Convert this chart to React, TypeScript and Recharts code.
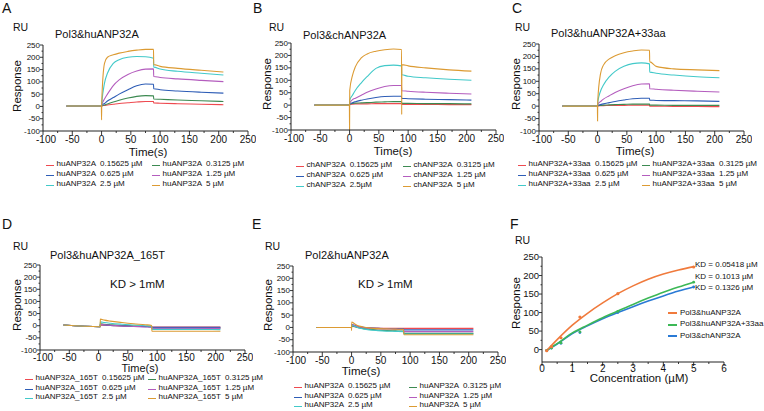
import React from 'react';
import { LineChart, ComposedChart, Line, Scatter, XAxis, YAxis } from 'recharts';

const FONT = '"Liberation Sans", Arial, Helvetica, sans-serif';

// sensorgram colours, lowest to highest concentration
const colors = ['#ee4a50', '#3d8a52', '#2e5db6', '#b45dbe', '#42c9c9', '#dc9b33'];
const concLabels = ['0.15625 µM', '0.3125 µM', '0.625 µM', '1.25 µM', '2.5 µM', '5 µM'];
const concLabelsB = ['0.15625 µM', '0.3125 µM', '0.625 µM', '1.25 µM', '2.5µM', '5 µM'];

const timeABC = [-60, -0.3, 0, 0.3, 5, 10, 20, 30, 45, 60, 75, 88.7, 89, 89.3, 100, 130, 170, 208];

const redA = [1, 1, 0, 2, 4, 6, 9, 12, 15, 18, 20, 20, 14, 14, 13, 11, 9, 7];
const greenA = [2, 2, 0, 3, 6, 10, 18, 25, 34, 41, 44, 43, 30, 30, 29, 26, 23, 20];
const blueA = [2, 2, 0, 4, 12, 22, 36, 50, 68, 84, 91, 90, 72, 72, 68, 63, 58, 54];
const purpleA = [2, 2, 0, 6, 30, 50, 85, 108, 130, 144, 152, 153, 122, 122, 118, 112, 106, 101];
const cyanA = [2, 2, 0, 10, 95, 135, 175, 190, 200, 203, 202, 196, 160, 160, 152, 143, 135, 128];
const orangeA = [2, 2, -55, 20, 175, 200, 210, 217, 224, 229, 232, 232, 170, 170, 163, 155, 147, 140];

const redB = [0, 0, 0, 2, 4, 5, 5, 5, 6, 6, 6, 6, 3, 3, 3, 3, 2, 2];
const greenB = [0, 0, 0, 3, 7, 8, 9, 10, 12, 13, 14, 14, 7, 7, 7, 6, 6, 5];
const blueB = [0, 0, 0, 4, 10, 14, 20, 25, 31, 35, 36, 36, 27, 27, 26, 24, 22, 20];
const purpleB = [0, 0, 0, 8, 22, 28, 40, 52, 65, 75, 79, 79, 58, 58, 56, 52, 48, 45];
const cyanB = [0, 0, 0, 20, 40, 60, 90, 115, 148, 159, 161, 158, 122, 122, 116, 110, 104, 100];
const orangeB = [0, 0, -100, 60, 120, 155, 190, 206, 217, 223, 226, 224, -38, 163, 158, 150, 142, 137];

const redC = [0, 0, 0, 1, 2, 2, 3, 3, 3, 4, 4, 4, 0, 0, 0, -1, -1, -2];
const greenC = [0, 0, 0, 2, 3, 4, 5, 6, 7, 8, 8, 8, 4, 4, 4, 3, 3, 3];
const blueC = [0, 0, 0, 3, 6, 9, 14, 19, 25, 30, 32, 32, 24, 24, 23, 22, 21, 19];
const purpleC = [0, 0, 0, 8, 18, 28, 42, 55, 70, 82, 89, 90, 70, 70, 68, 64, 60, 57];
const cyanC = [0, 0, 0, 15, 60, 85, 118, 140, 160, 171, 174, 170, 137, 137, 132, 125, 118, 114];
const orangeC = [0, 0, -60, 20, 130, 165, 190, 203, 215, 222, 226, 225, 178, 178, 160, 150, 146, 143];

const timeD = [-60, 2.7, 3, 10, 20, 40, 60, 80, 90.7, 91, 120, 160, 208];
const redD = [3, -4, 3, 2, 1, -1, -2, -3, -4, -5, -5, -5, -5];
const greenD = [3, -4, 8, 6, 4, 1, -1, -3, -4, -10, -10, -10, -10];
const blueD = [3, -4, 5, 3, 1, -1, -3, -4, -5, -7, -7, -7, -7];
const purpleD = [3, -4, 6, 4, 2, -1, -3, -5, -6, -11, -11, -11, -11];
const cyanD = [3, -4, 16, 13, 10, 6, 3, 0, -2, -15, -15, -15, -16];
const orangeD = [3, -4, 27, 23, 19, 13, 8, 4, 1, -23, -23, -23, -23];

const timeE = [-60, -0.3, 0, 0.3, 5, 10, 20, 30, 45, 60, 75, 88.7, 89.3, 120, 160, 208];
const redE = [0, 0, 0, 5, 3, 1, -1, -2, -3, -4, -4, -4, -4, -4, -4, -4];
const greenE = [0, 0, 0, 6, 4, 0, -5, -8, -11, -13, -14, -15, -24, -24, -24, -24];
const blueE = [0, 0, 0, 12, 9, 5, 1, -2, -4, -5, -6, -6, -10, -10, -10, -10];
const purpleE = [0, 0, 0, 10, 8, 4, 0, -3, -5, -6, -7, -8, -17, -17, -17, -17];
const cyanE = [0, 0, 0, 8, 5, 0, -6, -10, -13, -15, -16, -17, -27, -27, -27, -27];
const orangeE = [0, 0, -12, 22, 15, 8, 2, -2, -5, -6, -7, -8, -30, -30, -30, -30];

const sgTicks = [-100, -75, -50, -25, 0, 25, 50, 75, 100, 125, 150, 175, 200, 225, 250];

// panel F
const conc = [0.15625, 0.3125, 0.625, 1.25, 2.5, 5];
const huPts = [-3, 8, 32, 88, 151, 223];
const aaPts = [-2, 4, 18, 48, 103, 182];
const chPts = [-2, 4, 17, 46, 100, 169];
const fitX = [0.15, 0.5, 1, 1.5, 2, 2.5, 3, 3.5, 4, 4.5, 5];
const huFit = [-3, 27, 66, 98, 126, 151, 172, 190, 204, 215, 224];
const aaFit = [-2, 16, 45, 66, 86, 104, 122, 139, 155, 169, 182];
const chFit = [-2, 15, 43, 64, 83, 100, 116, 131, 145, 158, 169];
const fColors = ['#f07a3c', '#3cb856', '#2a7ad5'];
const fNames = ['Pol3&huANP32A', 'Pol3&huANP32A+33aa', 'Pol3&chANP32A'];
const kdLabels = ['KD = 0.05418 µM', 'KD = 0.1013 µM', 'KD = 0.1326 µM'];
const fxTicks = [0, 0.5, 1, 1.5, 2, 2.5, 3, 3.5, 4, 4.5, 5, 5.5, 6];
const fyTicks = [0, 25, 50, 75, 100, 125, 150, 175, 200, 225, 250];

const isMajor = (v: number, step: number) => Math.abs(v / step - Math.round(v / step)) < 1e-6;

const xTick = (step: number, fs: number, dy: number) => (p: any) => {
  const v = p.payload.value;
  const major = isMajor(v, step);
  return (
    <g>
      <line x1={p.x} x2={p.x} y1={p.y} y2={p.y + (major ? 4 : 2)} stroke="#222" strokeWidth={0.9} />
      {major && (
        <text x={p.x + (v <= -100 ? 3 : 0)} y={p.y + dy} textAnchor="middle" fontSize={fs} fontFamily={FONT} fill="#111">
          {v}
        </text>
      )}
    </g>
  );
};

const yTick = (step: number, fs: number) => (p: any) => {
  const v = p.payload.value;
  const major = isMajor(v, step);
  return (
    <g>
      <line x1={p.x} x2={p.x - (major ? 3 : 1.5)} y1={p.y} y2={p.y} stroke="#222" strokeWidth={0.9} />
      {major && (
        <text x={p.x - 3} y={p.y + fs * 0.33} textAnchor="end" fontSize={fs} fontFamily={FONT} fill="#111">
          {v}
        </text>
      )}
    </g>
  );
};

const Txt = ({ x, y, size, children, center }: any) => (
  <div
    style={{
      position: 'absolute',
      left: x,
      top: y - size / 2,
      fontSize: size,
      lineHeight: `${size}px`,
      whiteSpace: 'pre',
      fontFamily: FONT,
      color: '#111',
      transform: center ? 'translateX(-50%)' : undefined,
    }}
  >
    {children}
  </div>
);

const Vert = ({ x, y, size, children }: any) => (
  <div
    style={{
      position: 'absolute',
      left: x,
      top: y,
      fontSize: size,
      lineHeight: `${size}px`,
      whiteSpace: 'pre',
      fontFamily: FONT,
      color: '#111',
      transform: 'translate(-50%, -50%) rotate(-90deg)',
    }}
  >
    {children}
  </div>
);

const LegendKey = ({ x, y, color, w = 8, h = 1.3 }: any) => (
  <div style={{ position: 'absolute', left: x, top: y + 1, width: w, height: h, background: color }} />
);

const PAD_L = 40;
const PAD_T = 6;
const PAD_R = 8;
const PAD_B = 24;

const Sensorgram = ({ plot, time, series, prefix, labels, leg, dy = 12 }: any) => {
  const rows = time.map((t: number, i: number) => {
    const r: any = { t };
    series.forEach((s: number[], j: number) => (r['s' + j] = s[i]));
    return r;
  });
  return (
    <>
      <div style={{ position: 'absolute', left: plot.x - PAD_L, top: plot.y - PAD_T }}>
        <LineChart
          width={plot.w + PAD_L + PAD_R}
          height={plot.h + PAD_T + PAD_B}
          data={rows}
          margin={{ top: PAD_T, right: PAD_R, bottom: 0, left: 0 }}
        >
          <XAxis
            dataKey="t"
            type="number"
            domain={[-100, 250]}
            ticks={sgTicks}
            interval={0}
            height={PAD_B}
            tickSize={0}
            tickMargin={0}
            tickLine={false}
            tick={xTick(50, 10, dy)}
            stroke="#222"
          />
          <YAxis
            type="number"
            domain={[-100, 250]}
            ticks={sgTicks}
            interval={0}
            width={PAD_L}
            tickSize={0}
            tickMargin={0}
            tickLine={false}
            tick={yTick(50, 8)}
            allowDataOverflow
            stroke="#222"
          />
          {series.map((_: any, j: number) => (
            <Line
              key={j}
              dataKey={'s' + j}
              type="monotone"
              stroke={colors[j]}
              strokeWidth={1.1}
              dot={false}
              isAnimationActive={false}
            />
          ))}
        </LineChart>
      </div>
      {labels.map((c: string, j: number) => {
        const col = j % 2;
        const row = Math.floor(j / 2);
        const lx = col === 0 ? leg.x1 : leg.x2;
        return (
          <React.Fragment key={j}>
            <LegendKey x={lx} y={leg.rows[row]} color={colors[j]} />
            <Txt x={lx + 10.5} y={leg.rows[row]} size={8}>
              {prefix + '  ' + c}
            </Txt>
          </React.Fragment>
        );
      })}
    </>
  );
};

export default function App() {
  const fPlot = { x: 541.7, y: 256.7, w: 182, h: 105 };
  const pts = (ys: number[]) => conc.map((x, i) => ({ x, y: ys[i] }));
  const fit = (ys: number[]) => fitX.map((x, i) => ({ x, y: ys[i] }));
  return (
    <div style={{ position: 'absolute', left: 0, top: 0, width: 764, height: 411, background: '#fff', overflow: 'hidden' }}>
      {/* A */}
      <Txt x={2} y={8} size={14}>A</Txt>
      <Txt x={13} y={27} size={10.5}>RU</Txt>
      <Txt x={55} y={34} size={11}>Pol3&huANP32A</Txt>
      <Vert x={18} y={86} size={11.5}>Response</Vert>
      <Txt x={148} y={153} size={11.5} center>Time(s)</Txt>
      <Sensorgram
        plot={{ x: 43, y: 45, w: 205, h: 86 }}
        time={timeABC}
        series={[redA, greenA, blueA, purpleA, cyanA, orangeA]}
        prefix="huANP32A"
        labels={concLabels}
        leg={{ x1: 46, x2: 152, rows: [164, 174, 184] }}
      />

      {/* B */}
      <Txt x={253} y={8} size={14}>B</Txt>
      <Txt x={269} y={27} size={10.5}>RU</Txt>
      <Txt x={303} y={35} size={11}>Pol3&chANP32A</Txt>
      <Vert x={268} y={84} size={11.5}>Response</Vert>
      <Txt x={393} y={152} size={11.5} center>Time(s)</Txt>
      <Sensorgram
        plot={{ x: 291, y: 43, w: 205, h: 87 }}
        time={timeABC}
        series={[redB, greenB, blueB, purpleB, cyanB, orangeB]}
        prefix="chANP32A"
        labels={concLabelsB}
        leg={{ x1: 296, x2: 403, rows: [165, 175, 184.5] }}
      />

      {/* C */}
      <Txt x={512} y={8} size={14}>C</Txt>
      <Txt x={515} y={27} size={10.5}>RU</Txt>
      <Txt x={551} y={33} size={11}>Pol3&huANP32A+33aa</Txt>
      <Vert x={517} y={84} size={11.5}>Response</Vert>
      <Txt x={635} y={152} size={11.5} center>Time(s)</Txt>
      <Sensorgram
        plot={{ x: 539, y: 44, w: 205, h: 87 }}
        time={timeABC}
        series={[redC, greenC, blueC, purpleC, cyanC, orangeC]}
        prefix="huANP32A+33aa"
        labels={concLabels}
        leg={{ x1: 518, x2: 642, rows: [164, 174, 184] }}
      />

      {/* D */}
      <Txt x={2} y={224} size={14}>D</Txt>
      <Txt x={13} y={246} size={10.5}>RU</Txt>
      <Txt x={50} y={255} size={11}>Pol3&huANP32A_165T</Txt>
      <Txt x={110} y={285} size={11.5}>KD &gt; 1mM</Txt>
      <Vert x={18} y={305} size={11.5}>Response</Vert>
      <Txt x={140} y={368.5} size={11} center>Time(s)</Txt>
      <Sensorgram
        plot={{ x: 40, y: 265, w: 205, h: 85 }}
        time={timeD}
        series={[redD, greenD, blueD, purpleD, cyanD, orangeD]}
        prefix="huANP32A_165T"
        labels={concLabels}
        leg={{ x1: 25, x2: 148, rows: [378, 387.5, 397] }}
        dy={11}
      />

      {/* E */}
      <Txt x={252} y={224} size={14}>E</Txt>
      <Txt x={265} y={246} size={10.5}>RU</Txt>
      <Txt x={305} y={255} size={11}>Pol2&huANP32A</Txt>
      <Txt x={358} y={285} size={11.5}>KD &gt; 1mM</Txt>
      <Vert x={269} y={305} size={11.5}>Response</Vert>
      <Txt x={361} y={372} size={11.5} center>Time(s)</Txt>
      <Sensorgram
        plot={{ x: 292.5, y: 266, w: 205, h: 86 }}
        time={timeE}
        series={[redE, greenE, blueE, purpleE, cyanE, orangeE]}
        prefix="huANP32A"
        labels={concLabels}
        leg={{ x1: 294, x2: 409, rows: [386, 395.5, 405] }}
      />

      {/* F */}
      <Txt x={510} y={224} size={14}>F</Txt>
      <Txt x={515} y={240} size={10.5}>RU</Txt>
      <Vert x={517} y={303} size={11.5}>Response</Vert>
      <Txt x={639} y={379} size={11.5} center>Concentration (µM)</Txt>
      {kdLabels.map((k, i) => (
        <Txt key={k} x={695} y={[265, 276.5, 288][i]} size={8}>{k}</Txt>
      ))}
      {fNames.map((n, i) => (
        <React.Fragment key={n}>
          <LegendKey x={668} y={[312.5, 324, 335.5][i] - 1.5} color={fColors[i]} w={9} h={2} />
          <Txt x={680} y={[312.5, 324, 335.5][i]} size={8}>{n}</Txt>
        </React.Fragment>
      ))}
      <div style={{ position: 'absolute', left: fPlot.x - PAD_L, top: fPlot.y - PAD_T }}>
        <ComposedChart
          width={fPlot.w + PAD_L + PAD_R}
          height={fPlot.h + PAD_T + PAD_B}
          margin={{ top: PAD_T, right: PAD_R, bottom: 0, left: 0 }}
        >
          <XAxis
            dataKey="x"
            type="number"
            domain={[0, 6]}
            ticks={fxTicks}
            interval={0}
            height={PAD_B}
            tickSize={0}
            tickMargin={0}
            tickLine={false}
            tick={xTick(1, 10, 9.5)}
            stroke="#222"
          />
          <YAxis
            type="number"
            domain={[-33.5, 250]}
            ticks={fyTicks}
            interval={0}
            width={PAD_L}
            tickSize={0}
            tickMargin={0}
            tickLine={false}
            tick={yTick(50, 9.5)}
            allowDataOverflow
            stroke="#222"
          />
          <Line data={fit(chFit)} dataKey="y" type="monotone" stroke={fColors[2]} strokeWidth={1.6} dot={false} isAnimationActive={false} />
          <Line data={fit(aaFit)} dataKey="y" type="monotone" stroke={fColors[1]} strokeWidth={1.6} dot={false} isAnimationActive={false} />
          <Line data={fit(huFit)} dataKey="y" type="monotone" stroke={fColors[0]} strokeWidth={1.6} dot={false} isAnimationActive={false} />
          <Scatter data={pts(chPts)} dataKey="y" fill={fColors[2]} shape={(p: any) => <circle cx={p.cx} cy={p.cy} r={1.4} fill={fColors[2]} />} isAnimationActive={false} />
          <Scatter data={pts(aaPts)} dataKey="y" fill={fColors[1]} shape={(p: any) => <circle cx={p.cx} cy={p.cy} r={1.4} fill={fColors[1]} />} isAnimationActive={false} />
          <Scatter data={pts(huPts)} dataKey="y" fill={fColors[0]} shape={(p: any) => <circle cx={p.cx} cy={p.cy} r={1.6} fill={fColors[0]} />} isAnimationActive={false} />
        </ComposedChart>
      </div>
    </div>
  );
}
